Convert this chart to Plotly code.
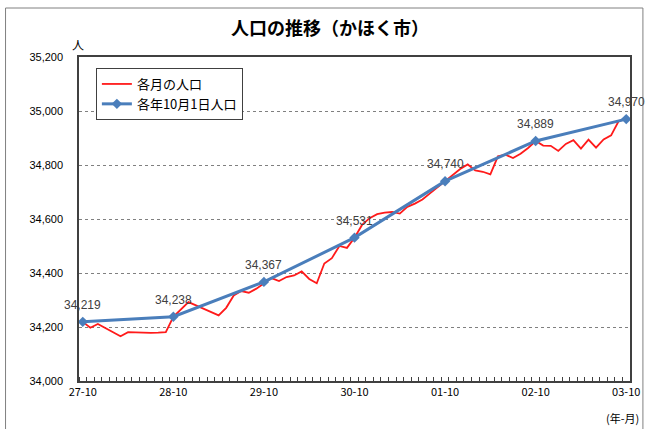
import plotly.graph_objects as go

# Monthly categories (Heisei 27-10 ... Reiwa 03-10)
months = []
for y, ms in [("27", range(10, 13)), ("28", range(1, 13)), ("29", range(1, 13)),
              ("30", range(1, 13)), ("31", range(1, 5)), ("01", range(5, 13)),
              ("02", range(1, 13)), ("03", range(1, 11))]:
    for m in ms:
        months.append(f"{y}-{m:02d}")

monthly_pop = [
    34219, 34197, 34211, 34196, 34181, 34166, 34181, 34180, 34177, 34178, 34179, 34181,
    34238, 34265, 34292, 34280, 34268, 34255, 34243, 34271, 34317, 34333, 34327, 34342,
    34362, 34381, 34370, 34385, 34391, 34406, 34378, 34362, 34435, 34455, 34500, 34493,
    34531, 34578, 34603, 34618, 34624, 34626, 34620, 34645, 34657, 34672, 34695, 34717,
    34740, 34764, 34785, 34802, 34780, 34775, 34765, 34832, 34838, 34826, 34842, 34863,
    34889, 34872, 34871, 34852, 34878, 34892, 34861, 34894, 34864, 34895, 34910, 34963,
    34970,
]

oct_labels = ["27-10", "28-10", "29-10", "30-10", "01-10", "02-10", "03-10"]
oct_pop = [34219, 34238, 34367, 34531, 34740, 34889, 34970]

idx = list(range(len(months)))
oct_idx = [i for i, m in enumerate(months) if m in oct_labels]

fig = go.Figure()
fig.add_trace(go.Scatter(
    x=idx, y=monthly_pop, mode="lines", name="各月の人口",
    line=dict(color="#FF1A1A", width=1.8), legendgroup="a",
    hoverinfo="skip",
))
fig.add_trace(go.Scatter(
    x=oct_idx, y=oct_pop, mode="lines+markers", name="各年10月1日人口",
    line=dict(color="#4A7EBB", width=3),
    marker=dict(symbol="diamond", size=8, color="#4A7EBB"),
    legendgroup="b",
))

# outer frame
L, R, T, B, W, H = 79, 18, 57, 48, 652, 429
pw, ph = W - L - R, H - T - B
def px(x): return (x - L) / pw
def py(y): return (H - B - y) / ph

fig.add_shape(type="rect", xref="paper", yref="paper",
              x0=px(5), x1=px(647), y0=py(8), y1=py(440),
              line=dict(color="#808080", width=1), layer="below")

annotations = [
    dict(text="人", xref="paper", yref="paper", x=px(78), y=py(44),
         showarrow=False, xanchor="center", yanchor="middle",
         font=dict(family="Noto Sans CJK JP", size=12, color="#000")),
    dict(text="(年-月)", xref="paper", yref="paper", x=px(645), y=py(418),
         showarrow=False, xanchor="right", yanchor="middle",
         font=dict(family="Noto Sans CJK JP", size=11, color="#000")),
]
for xi, v in zip(oct_idx, oct_pop):
    annotations.append(dict(
        x=xi, y=v, xref="x", yref="y", text=f"{v:,}", showarrow=False,
        xanchor="center", yanchor="middle", yshift=17,
        font=dict(family="Liberation Sans, Arial", size=12, color="#404040"),
    ))

fig.update_layout(
    width=W, height=H,
    margin=dict(l=L, r=R, t=T, b=B),
    paper_bgcolor="white", plot_bgcolor="white",
    title=dict(text="<b>人口の推移（かほく市）</b>", x=330 / W, xanchor="center",
               y=1 - 29 / H, yanchor="middle", yref="container",
               font=dict(family="Noto Sans CJK JP", size=18, color="#000")),
    showlegend=True,
    legend=dict(x=px(96), y=py(68), xanchor="left", yanchor="top",
                bgcolor="white", bordercolor="#404040", borderwidth=1,
                font=dict(family="Noto Sans CJK JP", size=13, color="#000"),
                itemwidth=30, tracegroupgap=7, traceorder="normal"),
    annotations=annotations,
)

fig.update_xaxes(
    range=[-0.5, len(months) - 0.5], tickmode="array", tickvals=oct_idx,
    ticktext=oct_labels, ticks="", showgrid=False, zeroline=False,
    showline=True, linecolor="#404040", linewidth=1.5, mirror=True,
    tickfont=dict(family="Noto Sans CJK JP", size=11, color="#000"),
    minor=dict(tickmode="linear", tick0=-0.5, dtick=1, ticks="inside",
               ticklen=4, tickcolor="#404040", showgrid=False),
)
fig.update_yaxes(
    range=[34000, 35200], dtick=200, tick0=34000, tickformat=",d",
    showgrid=True, gridcolor="#808080", griddash="dot", gridwidth=1,
    zeroline=False, showline=True, linecolor="#404040", linewidth=1.5, mirror=True,
    ticks="", ticklabelstandoff=12,
    tickfont=dict(family="Liberation Sans, Arial", size=11, color="#000"),
)

fig.write_html("out.html", post_script="document.body.style.margin='0';",
               config={"displayModeBar": False})
